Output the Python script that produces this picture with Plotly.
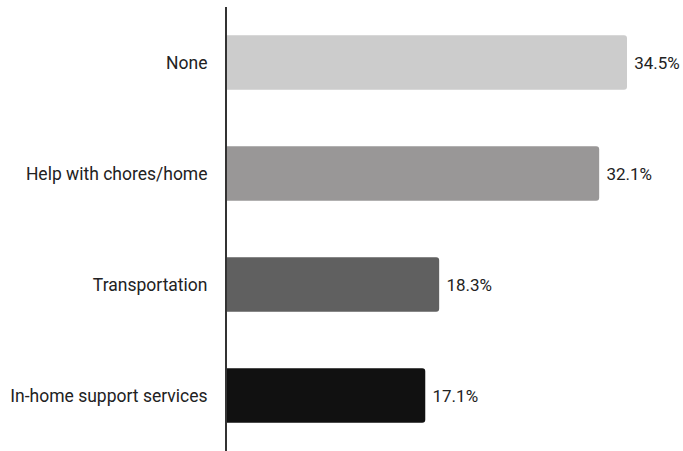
import plotly.graph_objects as go

categories = ["None", "Help with chores/home", "Transportation", "In-home support services"]
values = [34.5, 32.1, 18.3, 17.1]
labels = ["34.5%", "32.1%", "18.3%", "17.1%"]
colors = ["#cccccc", "#999797", "#606060", "#111111"]

fig = go.Figure(go.Bar(
    x=values,
    y=categories,
    orientation="h",
    marker=dict(color=colors, cornerradius=3, line=dict(width=0)),
    width=0.49,
    text=labels,
    texttemplate=" %{text}",
    textposition="outside",
    textfont=dict(family="Roboto", size=17, color="#222222"),
    cliponaxis=False,
))

fig.update_layout(
    width=683,
    height=451,
    margin=dict(l=227, r=0, t=7, b=0, autoexpand=False),
    paper_bgcolor="white",
    plot_bgcolor="white",
    showlegend=False,
    font=dict(family="Roboto", size=17.5, color="#222222"),
    xaxis=dict(range=[0, 39.33], visible=False, fixedrange=True),
    yaxis=dict(
        autorange="reversed",
        automargin=False,
        fixedrange=True,
        showline=True,
        linecolor="#333333",
        linewidth=2,
        showgrid=False,
        ticks="",
        ticklabelstandoff=14,
        tickfont=dict(family="Roboto", size=17.5, color="#222222"),
    ),
)

fig.write_html(
    "out.html",
    config={"displayModeBar": False},
    post_script="document.body.style.margin='0';document.body.style.padding='0';document.body.style.overflow='hidden';",
)
